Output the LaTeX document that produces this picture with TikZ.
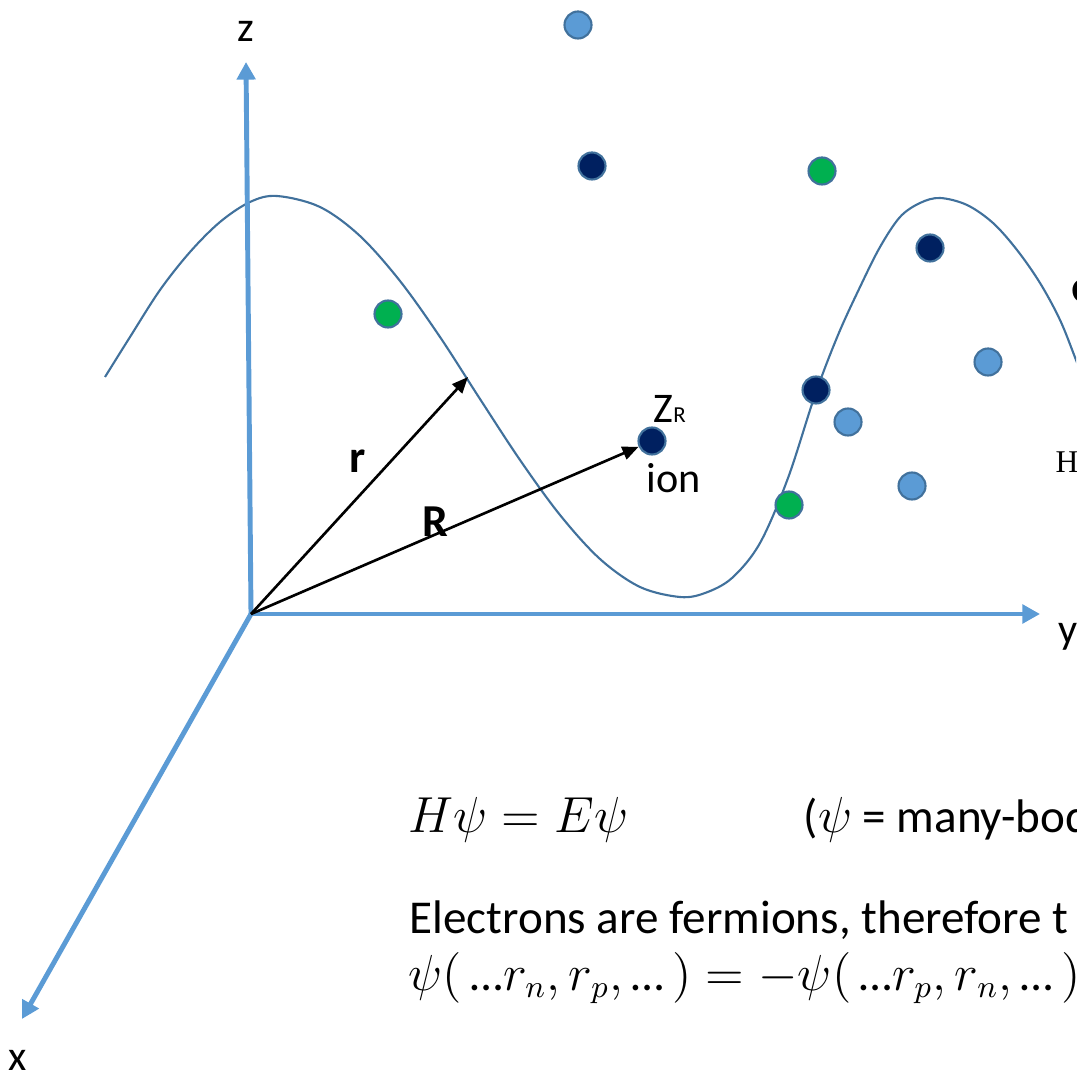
\documentclass[tikz,border=0pt]{standalone}
\usepackage{fontspec}
\setmainfont{Carlito}
\newfontfamily\serifH{Liberation Serif}
\usetikzlibrary{arrows.meta}
\definecolor{axblue}{HTML}{5B9BD5}
\definecolor{wavec}{HTML}{41719C}
\definecolor{navy}{HTML}{002060}
\definecolor{grn}{HTML}{00B050}
\newcommand{\ellip}{\mbox{…}}
\tikzset{
  axis/.style={line width=1.4pt, draw=axblue, -{Triangle[length=5pt,width=5.2pt]}},
  vec/.style={line width=0.75pt, draw=black, -{Triangle[length=4.6pt,width=3.8pt]}},
  wave/.style={line width=0.6pt, draw=wavec},
  dot/.style={circle, draw=wavec, line width=0.6pt, inner sep=0pt, minimum size=0.27cm},
  ltdot/.style={dot, fill=axblue},
  nvdot/.style={dot, fill=navy},
  grdot/.style={dot, fill=grn},
  lab/.style={inner sep=0pt, font=\fontsize{12}{14}\selectfont},
  boldlab/.style={inner sep=0pt, font=\fontsize{13}{15}\selectfont\bfseries},
  body/.style={inner sep=0pt, font=\fontsize{13.4}{16}\selectfont}
}
\begin{document}
\begin{tikzpicture}[x=0.01cm,y=-0.01cm]
\useasboundingbox (0,0) rectangle (1076,1080);
\clip (0,0) rectangle (1076,1080);

% wave
\draw[wave] plot[smooth, tension=0.55] coordinates {
 (105,377) (130,337) (160,290) (190,252) (220,222) (250,202) (277,196)
 (320,207) (360,236) (400,281) (440,337) (480,399) (520,460) (560,515)
 (600,559) (640,587) (680,597) (705,593) (732,578) (760,543) (788,478)
 (815,395) (838,335) (860,287) (880,247) (900,217) (920,203) (940,198)
 (967,205) (993,223) (1017,250) (1040,283) (1060,320) (1076,360) (1095,410)};

% axes
\coordinate (O) at (251,614);
\coordinate (ztip) at (246,62);
\coordinate (ytip) at (1040,614);
\coordinate (xtip) at (22,1019);
\draw[axis] (O) -- (ztip);
\draw[axis] (O) -- (ytip);
\draw[axis] (O) -- (xtip);
\node[lab, anchor=base west] (zl) at (237,42) {z};
\node[lab, anchor=base west] (yl) at (1058,643) {y};
\node[lab, anchor=base west] (xl) at (8,1070) {x};

% dots
\node[ltdot] (d1) at (578,25) {};
\node[ltdot] (d2) at (988,362) {};
\node[ltdot] (d3) at (848,422) {};
\node[ltdot] (d4) at (912,486) {};
\node[nvdot] (n1) at (592,166) {};
\node[nvdot] (n2) at (930,248) {};
\node[nvdot] (n3) at (816,390) {};
\node[nvdot] (ion) at (652,441) {};
\node[grdot] (g1) at (822,171) {};
\node[grdot] (g2) at (388,314) {};
\node[grdot] (g3) at (789,505) {};

% vectors
\coordinate (rtip) at (468,377);
\draw[vec] (O) -- (rtip);
\draw[vec] (O) -- (ion);
\node[boldlab, anchor=base west] (rl) at (349,472) {r};
\node[boldlab, anchor=base west] (Rl) at (422,537) {R};
\node[lab, anchor=base west] (zr) at (653,423) {Z{\fontsize{6.5}{7}\selectfont R}};
\node[lab, anchor=base west] (ionl) at (646,493) {ion};

% cut-off texts at right edge
\node[inner sep=0pt, anchor=base west, font=\fontsize{13.4}{16}\selectfont\bfseries] (el) at (1071,303) {e};
\node[inner sep=0pt, anchor=base west, font=\fontsize{9}{10}\selectfont\serifH] (hl) at (1055,472) {H};

% equations
\node[body, anchor=west] (eq1) at (408,820) {$H\psi = E\psi$};
\node[body, anchor=west] (eq1b) at (803,820) {($\psi$ = many-bod};
\node[body, anchor=base west] (t1) at (409,933) {Electrons are fermions, therefore t};
\node[body, anchor=base west] (eq2) at (408,990) {$\psi\big(\,\ellip r_n, r_p, \ellip\,\big) = -\psi\big(\,\ellip r_p, r_n, \ellip\,\big)$};
\end{tikzpicture}
\end{document}
